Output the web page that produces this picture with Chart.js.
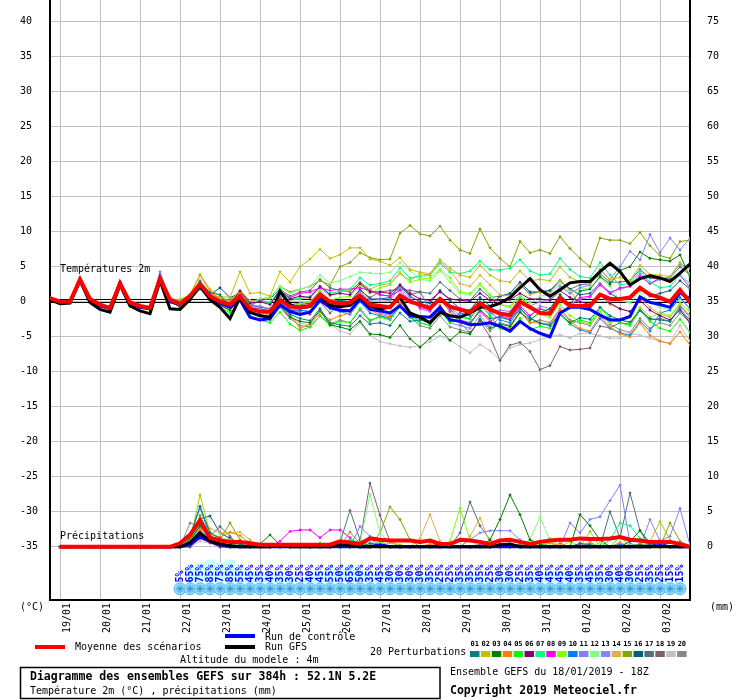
<!DOCTYPE html>
<html><head><meta charset="utf-8"><title>Diagramme des ensembles GEFS</title>
<script src="https://cdn.jsdelivr.net/npm/chart.js@4.4.1/dist/chart.umd.min.js"></script>
<style>html,body{margin:0;padding:0;background:#fff;}canvas{display:block;}</style>
</head><body>
<canvas id="c" width="740" height="700"></canvas>
<script>
// ---------- DATA ----------
const hours = [0,6,12,18,24,30,36,42,48,54,60,66,72,78,84,90,96,102,108,114,120,126,132,138,144,150,156,162,168,174,180,186,192,198,204,210,216,222,228,234,240,246,252,258,264,270,276,282,288,294,300,306,312,318,324,330,336,342,348,354,360,366,372,378,384];
const dayHours = [6,30,54,78,102,126,150,174,198,222,246,270,294,318,342,366];
const dayLabels = ['19/01','20/01','21/01','22/01','23/01','24/01','25/01','26/01','27/01','28/01','29/01','30/01','31/01','01/02','02/02','03/02'];
const tempTicks = [-35,-30,-25,-20,-15,-10,-5,0,5,10,15,20,25,30,35,40];
const precipTicks = [0,5,10,15,20,25,30,35,40,45,50,55,60,65,70,75];
const pops = [5,65,75,85,75,85,55,45,35,40,35,30,25,40,45,55,50,65,50,35,45,30,30,30,30,35,25,25,35,35,35,25,30,30,25,35,40,45,45,40,35,45,35,30,40,30,25,35,25,15,15];

// Temperature 2m (°C)
const tMean = [0.5,0,0,3.2,0.4,-0.4,-0.9,2.6,-0.1,-0.6,-0.9,3.3,0.3, -0.3,0.8,2.5,0.8, 0.0,-0.4,0.8,-1.0, -1.4,-1.4,0.2,-0.7, -0.8,-0.6,1.0,0.0, -0.2,-0.1,0.9,-0.4, -0.6,-0.8,0.9,0.0, -0.4,-0.9,0.4,-0.7, -1.1,-1.5,-0.2,-1.1, -1.7,-1.9,0.0,-0.8, -1.6,-1.7,0.5,-0.6, -0.6,-0.6,1.0,0.4, 0.4,0.6,2.0,1.0, 0.6,0.0,1.7,-0.1];
const tGfs = [0.3,-0.3,-0.2,3.0,-0.1,-1.1,-1.5,2.4,-0.6,-1.3,-1.7,3.0,-1.0, -1.1,0.3,2.4,0.3, -0.8,-2.4,0.6,-1.5, -2.0,-2.2,1.5,-0.4, -0.9,-0.7,0.8,-0.5, -0.7,-0.5,0.7,-0.6, -1.0,-0.8,0.6,-1.6, -2.2,-3.0,-1.5,-2.0, -2.2,-1.6,-0.8,-0.7, -0.2,0.6,2.0,3.3, 1.7,0.8,1.7,2.7, 2.9,2.9,4.3,5.5, 4.3,2.4,3.3,3.7, 3.4,2.9,4.1,5.4];
const tCtl = [0.4,-0.1,-0.1,3.1,0.3,-0.6,-1.0,2.7,-0.2,-0.8,-1.0,3.4,0.0, -0.4,0.6,2.2,0.5, -0.2,-0.8,0.3,-2.2, -2.6,-2.4,-0.4,-1.4, -1.8,-1.5,0.2,-0.8, -1.2,-1.3,0.4,-1.1, -1.3,-1.6,-0.6,-2.0, -2.1,-2.2,-0.8,-2.6, -2.8,-3.3,-3.2,-3.0, -3.5,-4.2,-2.8,-3.8, -4.5,-5.0,-1.6,-0.8, -0.8,-1.1,-1.9,-2.6, -2.6,-2.1,0.7,-0.1, -0.4,-0.8,1.3,0.4];
const t01 = [0.6,0.1,0,3.0,0.3,-0.4,-0.9,2.7,-0.1,-0.6,-0.9,3.4,0.4, -0.2,0.6,2.8,1.3, 1.0,-0.8,0.2,-1.5, -1.8,-2.2,-0.5,-1.8, -2.4,-2.7,-1.0,-3.0, -3.3,-3.5,-2.0,-3.2, -3.0,-3.4,-1.6,-2.8, -2.6,-3.0,-1.4,-2.7, -2.8,-3.1,-1.2,-2.4, -2.2,-2.6,-0.9,-2.3, -3.1,-3.4,-1.8,-3.0, -2.3,-2.5,-0.8,-2.0, -2.6,-2.9,-1.3,-2.4, -2.6,-2.8,-1.0,-2.7];
const t02 = [0.4,0,0.1,3.2,0.4,-0.3,-0.8,2.8,0,-0.5,-0.8,3.5,0.5, 0.2,1.0,3.9,1.8, 0.8,0.6,4.3,1.2, 1.3,0.8,4.3,2.8, 5.0,6.1,7.5,6.2, 6.7,7.7,7.7,6.1, 5.8,5.2,6.3,4.6, 4.2,4.0,6.0,4.8, 3.8,3.5,5.2,3.8, 3.0,2.8,4.4,3.0, 3.2,3.0,5.0,3.5, 2.8,2.6,4.6,3.2, 3.5,3.0,5.2,3.9, 3.8,3.6,5.6,4.0];
const t03 = [0.5,-0.1,0,3.0,0.2,-0.6,-1.1,2.5,-0.3,-0.8,-1.1,3.0,0.1, -0.8,0.2,1.8,0.3, -0.5,-1.2,0.3,-1.6, -2.0,-2.4,-0.6,-2.2, -2.8,-3.0,-1.2,-3.3, -3.6,-4.0,-2.8,-4.6, -4.7,-5.1,-3.4,-5.3, -6.5,-5.2,-4.0,-5.5, -4.3,-4.6,-2.5,-3.8, -3.2,-3.5,-1.5,-2.6, -1.5,-1.0,1.0,-0.4, 1.5,1.8,3.6,2.5, 4.5,5.0,7.1,6.2, 6.0,5.8,6.7,3.5];
const t04 = [0.4,-0.1,-0.1,3.3,0.3,-0.5,-1.0,2.6,-0.2,-0.7,-1.0,3.1,0.3, 0.0,1.0,3.8,1.5, 0.3,-0.5,1.2,-0.8, -1.5,-2.0,0.2,-1.8, -3.8,-3.2,-1.5,-2.6, -2.0,-1.6,0.2,-1.2, -1.8,-2.2,0.0,-1.6, -2.4,-2.8,-0.5,-2.4, -3.0,-3.3,-1.0,-2.8, -3.4,-3.8,-1.5,-3.0, -3.0,-3.2,-1.2,-2.8, -3.8,-4.2,-2.0,-3.6, -4.6,-5.0,-3.0,-4.8, -5.6,-6.0,-4.3,-6.2];
const t05 = [0.5,0,0,3.1,0.2,-0.6,-1.0,2.5,-0.3,-0.7,-1.0,3.0,0.0, -0.5,0.3,2.0,0.2, -0.8,-1.6,0.0,-2.0, -2.6,-3.0,-1.5,-3.2, -4.1,-3.6,-2.0,-3.4, -2.8,-3.0,-1.0,-2.6, -2.2,-2.6,-0.6,-2.2, -3.0,-3.4,-1.2,-3.0, -2.2,-2.5,-0.4,-2.0, -3.8,-4.2,-2.4,-4.0, -3.5,-3.8,-1.8,-3.2, -2.6,-3.0,-0.8,-2.4, -3.0,-3.4,-1.2,-2.8, -3.8,-4.2,-2.5,-4.4];
const t06 = [0.5,0.1,0,3.1,0.4,-0.4,-0.9,2.7,-0.1,-0.6,-0.9,3.2,0.3, 0.0,0.8,2.6,1.0, 0.2,-0.2,1.5,-0.2, 0.0,-0.4,1.6,0.4, 0.8,0.6,2.2,1.0, 1.2,1.0,2.6,1.4, 1.4,1.2,2.4,1.2, 0.4,0.2,1.4,0.4, 0.2,0.1,1.2,0.2, 0.2,0.3,1.2,0.4, 0.4,0.2,1.6,0.6, 0.0,-0.4,1.0,-0.2, -1.0,-1.4,0.2,-1.2, -2.0,-2.6,-1.2,-3.0];
const t07 = [0.5,0,0.1,3.2,0.3,-0.5,-0.9,2.6,-0.2,-0.6,-1.0,3.3,0.2, 0.2,1.0,2.8,1.0, 0.3,-0.3,1.2,-0.4, 0.1,-0.2,1.8,0.5, 0.5,0.8,2.2,1.2, 1.5,1.8,3.4,2.4, 2.6,3.0,4.8,3.4, 3.6,3.8,5.5,4.2, 4.0,4.4,5.8,4.6, 4.5,4.8,6.0,4.4, 3.8,4.0,6.2,4.6, 3.6,3.4,5.6,3.8, 2.4,2.6,4.4,2.8, 2.0,2.2,3.8,2.6];
const t08 = [0.5,0,0,3.0,0.3,-0.5,-1.0,2.6,-0.2,-0.7,-1.0,3.1,0.2, -0.2,0.6,2.2,0.6, 0.0,-0.6,1.0,-0.6, 0.2,-0.2,1.6,0.6, 1.2,1.4,2.0,1.6, 1.8,1.8,2.0,1.6, 1.0,0.8,1.6,0.2, -0.8,-1.2,0.4,-1.0, -2.6,-3.0,-1.4,-2.8, -2.0,-2.4,-0.6,-2.0, -1.0,-1.4,0.6,-0.8, 0.6,0.8,2.4,1.2, 2.0,2.2,3.6,2.6, 3.4,3.0,3.8,2.0];
const t09 = [0.5,0,0,3.1,0.3,-0.5,-1.0,2.6,-0.2,-0.7,-1.0,3.2,0.1, -0.3,0.5,2.4,0.6, -0.4,-1.0,0.8,-1.0, -1.2,-1.5,0.4,-0.8, -0.3,0.0,1.5,0.2, 0.6,0.8,2.4,1.2, 2.0,2.4,4.0,2.8, 3.2,3.4,4.6,3.4, 1.4,1.2,2.6,1.0, -0.4,-0.8,0.8,-0.6, -1.8,-2.2,-0.4,-2.0, -2.8,-3.2,-1.4,-3.0, -2.6,-3.0,-0.8,-2.2, -1.6,-2.0,-0.2,-1.4];
const t10 = [0.6,0.1,0,3.2,0.4,-0.4,-0.9,2.8,-0.1,-0.6,-0.9,3.5,0.3, 0.0,0.8,2.9,1.0, 0.1,-0.6,0.8,-1.0, -1.4,-1.8,0.4,-1.2, -1.2,-1.4,0.2,-1.0, -1.4,-1.8,0.0,-1.6, -2.0,-2.4,-0.4,-2.2, -2.4,-2.8,-1.0,-2.6, -1.6,-2.0,0.0,-1.4, -2.6,-3.0,-1.0,-2.4, -3.0,-3.4,-1.6,-3.2, -4.0,-4.4,-2.4,-3.8, -4.4,-4.8,-2.8,-4.2, -1.6,-1.2,0.6,-1.0];
const t11 = [0.5,0,0,3.2,0.3,-0.5,-1.0,2.7,-0.2,-0.7,-1.0,4.0,0.3, 0.2,0.9,2.8,1.0, 0.0,-0.4,1.2,-0.6, -1.0,-1.4,0.6,-1.0, -1.2,-1.4,0.4,-0.8, -0.2,-0.4,1.4,0.2, 0.3,0.2,2.0,0.6, -1.0,-1.4,0.4,-0.8, -2.0,-2.4,-0.4,-1.8, -1.2,-1.4,0.6,-0.6, 0.0,0.4,2.2,1.2, 2.0,2.4,4.6,3.2, 5.0,7.2,6.0,9.6, 7.0,9.1,7.4,9.1];
const t12 = [0.5,0,0,3.1,0.3,-0.5,-0.9,2.6,-0.2,-0.6,-0.9,3.2,0.2, 0.1,0.9,2.7,1.1, 0.3,-0.2,1.4,-0.2, 0.4,0.6,2.2,1.2, 1.8,2.2,3.8,2.6, 3.0,3.6,4.2,4.1, 4.0,4.2,5.6,4.4, 3.2,3.0,4.4,2.8, 1.2,1.0,2.4,0.8, -0.4,-0.6,1.0,-0.2, 0.8,1.0,2.6,1.2, 1.8,2.0,3.4,2.2, 0.2,-0.2,1.4,0.0, -0.8,-1.2,0.4,-1.0];
const t13 = [0.4,-0.1,0,3.4,0.3,-0.5,-1.0,2.9,-0.2,-0.7,-1.0,4.3,0.4, 0.1,0.7,2.6,0.8, 0.2,-0.4,1.0,-0.6, -0.6,-1.0,1.0,-0.4, -0.2,0.0,1.6,0.2, -1.0,-1.4,0.6,-1.0, -1.6,-2.0,0.0,-1.6, -3.0,-3.4,-1.4,-3.0, -3.4,-3.8,-2.0,-3.6, -2.2,-2.6,-0.6,-2.0, -0.6,-1.0,1.0,-0.4, 0.4,0.6,2.6,1.4, 1.8,2.2,4.0,2.6, 3.2,3.6,5.4,4.8];
const t14 = [0.5,0,0,3.1,0.3,-0.5,-1.0,2.7,-0.1,-0.6,-0.9,3.3,0.3, 0.3,1.0,3.0,1.2, 0.6,0.0,1.6,0.2, 0.0,-0.2,1.4,0.2, 0.4,0.6,2.0,0.8, 1.4,1.6,2.8,1.8, 2.4,2.6,4.2,3.0, 4.0,3.8,5.8,4.4, 2.6,2.2,3.8,2.4, 1.0,0.8,2.4,1.0, 1.4,1.2,3.0,1.6, -0.4,-0.8,1.0,-0.4, -1.0,-1.4,0.6,-0.8, -1.8,-2.2,-0.4,-2.0];
const t15 = [0.5,0,0,3.1,0.3,-0.5,-1.0,2.6,-0.2,-0.7,-1.0,3.1,0.2, 0.2,1.0,2.8,1.2, 0.6,0.2,1.6,0.0, 0.4,0.6,2.2,1.4, 1.8,2.2,3.0,2.4, 5.0,5.6,7.0,6.3, 6.0,6.1,9.8,10.9, 9.7,9.4,10.8,8.8, 7.4,6.9,10.4,7.7, 6.2,5.0,8.6,7.0, 7.4,6.9,9.3,7.6, 6.2,5.0,9.1,8.8, 8.8,8.3,9.9,8.0, 6.6,6.2,8.6,8.8];
const t16 = [0.5,0,0,3.1,0.3,-0.5,-1.0,2.6,-0.2,-0.7,-1.0,3.2,0.3, 0.0,0.9,2.6,1.0, 2.0,0.6,1.2,-0.4, -0.8,-1.0,0.6,-0.6, -0.4,-0.2,1.4,0.0, 0.2,0.0,1.8,0.4, 0.4,0.6,2.4,0.8, 0.0,-0.2,1.6,0.2, -1.0,-1.2,0.6,-0.6, 0.8,1.2,2.8,1.4, 1.4,1.6,3.0,1.8, 1.0,1.2,2.6,1.2, 0.4,0.6,2.0,0.8, 1.2,1.6,3.0,1.8];
const t17 = [0.5,0,0,3.1,0.3,-0.5,-1.0,2.6,-0.2,-0.7,-1.0,3.2,0.2, 0.2,1.0,3.0,1.2, 0.4,0.0,1.4,0.0, 0.2,0.4,1.8,0.8, 1.4,1.6,3.2,2.0, 1.6,1.4,2.8,1.6, 1.0,0.8,2.2,1.0, 1.4,1.2,2.8,1.6, 0.4,0.2,1.8,0.6, 0.8,1.0,2.4,1.2, 1.4,1.6,3.0,1.8, 2.4,2.6,4.0,2.8, 2.8,3.0,4.6,3.4, 3.2,3.4,5.0,3.8];
const t18 = [0.5,0,0,3.1,0.3,-0.5,-1.0,2.6,-0.2,-0.7,-1.0,3.2,0.2, 0.0,0.8,2.6,0.8, -0.2,-0.8,0.8,-1.0, -1.0,-1.4,0.6,-1.2, -1.4,-1.8,0.0,-1.6, -0.4,-0.2,1.6,0.6, 1.4,1.6,1.8,1.6, 1.4,-1.0,0.4,-1.4, -3.0,-4.4,-2.8,-5.0, -8.4,-6.2,-5.8,-7.1, -9.7,-9.1,-6.4,-6.9, -6.8,-6.6,-3.5,-3.7, -3.0,-3.2,-1.0,-2.6, -2.4,-2.8,-0.6,-2.2];
const t19 = [0.5,0,0,3.1,0.3,-0.5,-1.0,2.6,-0.2,-0.7,-1.0,3.1,0.1, -0.4,0.4,2.2,0.4, -0.6,-1.2,0.6,-1.6, -2.0,-2.4,-0.4,-2.2, -3.0,-3.4,-1.4,-3.2, -4.2,-4.6,-3.0,-4.8, -5.7,-6.0,-6.3,-6.5, -6.3,-5.7,-4.9,-5.5, -6.4,-7.3,-6.1,-7.0, -8.3,-6.6,-6.1,-5.9, -5.4,-5.0,-4.7,-5.2, -4.5,-4.5,-4.9,-5.2, -5.2,-4.5,-4.8,-5.2, -5.7,-5.9,-3.4,-5.6];
const t20 = [0.5,0,0,3.1,0.3,-0.5,-1.0,2.6,-0.2,-0.7,-1.0,3.2,0.2, -0.3,0.5,2.4,0.6, -0.6,-1.2,0.6,-1.4, -2.0,-2.6,-0.8,-2.4, -3.4,-3.6,-2.0,-3.2, -2.6,-3.0,-1.2,-2.8, -2.0,-2.4,-0.6,-2.2, -3.4,-3.8,-2.0,-3.6, -4.0,-4.4,-2.6,-4.2, -3.0,-3.4,-1.4,-3.0, -2.6,-3.0,-1.0,-2.6, -3.0,-3.4,-1.4,-3.2, -4.0,-4.4,-2.4,-3.8, -3.0,-3.4,-1.6,-3.0];

// Precipitations (mm), from +6h to +384h
const pMean = [0,0,0,0,0,0,0,0,0,0,0,0, 0.5,1.7,3.8,1.3, 0.9,0.7,0.7,0.5, 0.3,0.3,0.3,0.3, 0.3,0.3,0.3,0.3, 0.8,0.6,0.4,1.2, 1.0,0.9,0.9,0.9, 0.7,0.9,0.4,0.4, 1.0,0.9,0.7,0.4, 0.9,1.0,0.7,0.4, 0.7,0.9,1.0,1.0, 1.2,1.1,1.1,1.2, 1.4,1.0,0.9,0.7, 0.7,0.7,0.4,0.0];
const pGfs = [0,0,0,0,0,0,0,0,0,0,0,0, 0,0.6,2.0,0.8, 0.4,0.2,0,0, 0,0,0.2,0, 0,0,0,0, 0.3,0.2,0,0, 0,0,0,0, 0,0,0,0, 0,0,0,0, 0.3,0.4,0,0, 0,0,0,0, 0,0,0,0, 0,0,0,0, 0,0,0,0, 0,1.5,2.3,0];
const pCtl = [0,0,0,0,0,0,0,0,0,0,0,0, 0,0.3,1.5,0.8, 0.3,0,0,0, 0,0,0,0, 0,0,0,0, 0,0,0,0, 0.3,0,0,0, 0,0,0,0, 0,0,0,0, 0,0,0,0, 0,0,0,0, 0,0,0,0, 0,0,0,0, 0.2,0,0,0, 0,0,0,0];
const p01 = [0,0,0,0,0,0,0,0,0,0,0,0, 0.3,1.5,5.8,2.0, 1.2,0.6,0.4,0, 0,0,0,0, 0.2,0,0,0, 0,0,0,0.5, 0.3,0,0,0, 0,0,0,0, 0,0,0,0, 0,0.4,0,0, 0,0,0,0, 0.5,0.3,0,0, 0,0,0,0.3, 0,0,0,0];
const p02 = [0,0,0,0,0,0,0,0,0,0,0,0, 0.2,0.8,7.4,2.0, 1.2,1.0,0.8,0.3, 0,0,0,0, 0,0,0,0, 0.4,0,0,0, 0,0.6,0.3,0, 0,0,0,0, 0,0,0,0, 0,0,0,0, 0.6,0.5,0,0, 0,2.2,0,0, 0,0,0,0.8, 3.6,1.0,0,0];
const p03 = [0,0,0,0,0,0,0,0,0,0,0,0, 0,1.0,3.0,1.5, 0.8,0,0,0, 0.4,1.7,0.3,0, 0,0,0,0, 0.4,0,0,0, 0,0,0,0, 0,0,0,0, 0,0,0,1.0, 3.9,7.4,4.6,1.0, 0.4,0,0,0, 4.6,3.0,1.0,0, 0,0.8,2.3,0.5, 0,0,0.4,0];
const p04 = [0,0,0,0,0,0,0,0,0,0,0,0, 0,0.6,2.5,1.8, 1.4,2.1,1.6,0.5, 0,0,0,0, 0,0,0,0, 0,0,0,0.3, 0,0,0,0, 0,0.4,0,0, 0,0,0,0, 0,0,0,0, 0,0,0.5,0, 0,0,0,0, 0.6,0,0,0, 0,0,0,0];
const p05 = [0,0,0,0,0,0,0,0,0,0,0,0, 0,0.2,2.0,0.8, 0.5,0,0,0, 0,0,0,0.3, 0,0,0.5,0, 0,0,0,0, 0.8,0,0,0, 0,0,0,0, 0,0,0,0, 0,0,0,0.5, 0,0,0,0, 0,0,0,0, 1.5,0,0.5,0, 0,0,0,0];
const p06 = [0,0,0,0,0,0,0,0,0,0,0,0, 0,0,1.2,0.6, 0,0,0,0, 0,0,0,0, 0,0,0,0, 0,0,0.3,0, 0,0,0,0, 0,0,0,0, 0,0,0,0, 0.4,0,0,0, 0,0,0,0, 0,0,0,0, 0,0,0.4,0, 0.6,0,0,0];
const p07 = [0,0,0,0,0,0,0,0,0,0,0,0, 0,0.4,3.5,1.4, 0.6,0,0,0, 0,0,0,0, 0,0,0,0, 0.5,1.0,0.6,0, 0,0,0,0, 0,0,0,0, 0,0,0,0, 0,0,0,0, 0.8,0,0,0, 0,0,0,1.0, 3.4,3.0,1.2,0, 0,0,0,0];
const p08 = [0,0,0,0,0,0,0,0,0,0,0,0, 0,0.8,2.2,1.0, 0.5,0,0,0, 0,0,0.8,2.2, 2.4,2.4,1.3,2.4, 2.4,1.3,0,0, 0,0,0,0, 0,0,0,0, 0,0,0.3,0, 0,0,0,0, 0,0,0,0, 0.3,0,0,0, 0,0,0,0.5, 0,0,0,0];
const p09 = [0,0,0,0,0,0,0,0,0,0,0,0, 0,0.6,4.0,2.0, 1.0,0.6,0,0, 0,0,0,0, 0,0,0,0.4, 0.3,0,0,0, 0,0,0,0, 0,0,0,0.8, 5.5,1.0,0,0, 0,0,0,0, 0.5,1.2,0,0.8, 0,0,0,0, 0,0,0,0, 0,0,0,0];
const p10 = [0,0,0,0,0,0,0,0,0,0,0,0, 0,1.5,5.6,1.5, 0.6,0,0,0, 0,0,0,0, 0,0,0.2,0, 0.5,0,0,0, 0,0,0,0, 0,0,0,0, 0,0,0,0, 0.3,0,0,0, 0.2,0,0,0, 0,0,0,0, 0.4,0,0,0, 0,0,0,0];
const p11 = [0,0,0,0,0,0,0,0,0,0,0,0, 0,0.5,3.0,1.0, 0,0,0,0, 0,0,0,0, 0,0,0,0, 0,0,2.9,1.5, 0,0,0,0, 0,0,0,0, 0,0,0,0, 0,0,0,0, 0,0,0,3.4, 2.0,3.9,4.3,6.6, 8.8,0.5,0,0, 0,0,0,0];
const p12 = [0,0,0,0,0,0,0,0,0,0,0,0, 0,0.5,2.5,1.0, 0,0,0,0, 0,0,0,0, 0,0,0,0, 0,0,0.5,7.5, 2.0,0.5,0,0, 0,0,0,0, 0,0,0,0, 0,0,0,1.0, 4.3,0.8,0,0, 0,0,0.6,0, 0,0,0,0, 0,0,0,0];
const p13 = [0,0,0,0,0,0,0,0,0,0,0,0, 0,0,2.0,0.8, 0,0,0,0, 0,0,0,0, 0,0,0,0, 0,0,0,0, 0,0,0,0, 0,0,0,0, 0,1.0,2.0,2.3, 2.3,2.3,1.0,0, 0,0,0,0, 0,0,0,0, 0,0,0,3.9, 0.8,1.5,5.5,0.2];
const p14 = [0,0,0,0,0,0,0,0,0,0,0,0, 0,0.8,3.2,2.6, 2.0,2.0,2.1,1.0, 0,0,0,0, 0,0,0,0, 0,0,0,0, 0,0,0,0, 1.2,4.6,0.8,0, 0,1.5,4.1,0.5, 0,0,0,0, 0,0,0.5,0, 0,0.6,0,0, 0,0,0,0, 1.0,0,0,0];
const p15 = [0,0,0,0,0,0,0,0,0,0,0,0, 0,0.5,4.5,1.4, 1.0,3.4,1.0,0, 0,0,0,0, 0,0,0,0, 0,2.1,0.5,0, 2.0,5.7,3.9,1.0, 0,0,0,0, 0,0,0,0, 0,0,0,0, 0,0.6,0,0, 0,0,0,0, 0,0,0,0, 0,3.4,0.8,0];
const p16 = [0,0,0,0,0,0,0,0,0,0,0,0, 0,0.8,4.0,4.4, 2.0,1.2,0.4,0, 0,0,0,0, 0,0,0,0, 0,0,0,0, 0,0,0,0, 0,0,0.6,0, 0,0,0,0, 0,0,0,0, 0,0,0,0, 0,0.6,0,0, 0,0,0,0, 0,0,0,0];
const p17 = [0,0,0,0,0,0,0,0,0,0,0,0, 0,1.0,3.5,1.5, 2.9,1.5,0,0, 0,0,0,0, 0,0,0,0, 0.6,5.2,1.0,0, 0,0,0,0, 0,0,0,0, 2.0,6.4,3.0,1.0, 0,0,0,0, 0,0,0,0, 0,0,0,5.0, 1.3,7.7,2.3,0, 0,0,0,0];
const p18 = [0,0,0,0,0,0,0,0,0,0,0,0, 0,1.2,2.6,1.0, 0,0,0,0, 0,0,0,0, 0,0,0,0, 0,0,0.8,9.1, 4.5,0.8,0,0, 0,0,0,0, 0,0,0,0, 0,0,0.4,0, 0,0,0,0, 0,0,0,0, 0,0,0,0, 0,0,0,0];
const p19 = [0,0,0,0,0,0,0,0,0,0,0,0, 0,0,0.8,0.5, 0,0,0,0, 0,0,0,0, 0,0,0,0, 0,0,0,0, 0,0,0,0, 0,0,0,0, 0,0,0.5,0, 0,0,0,0, 0,0,0,0, 0,0,0,0, 0,0.3,0,0, 0,0,0,0];
const p20 = [0,0,0,0,0,0,0,0,0,0,0,0, 0,3.4,2.8,1.4, 0.8,0,0,0, 0,0,0,0, 0,0,0,0, 0,0,0,0, 0,0,0,0, 0,0,0.5,0.3, 0,0,0,0, 0,0,0,0, 0,0,0,0, 0.4,0,0,0, 0,0,0,0, 0,0,0,0];

const membersT = [t01,t02,t03,t04,t05,t06,t07,t08,t09,t10,t11,t12,t13,t14,t15,t16,t17,t18,t19,t20];
const membersP = [p01,p02,p03,p04,p05,p06,p07,p08,p09,p10,p11,p12,p13,p14,p15,p16,p17,p18,p19,p20];

// ---------- STYLE ----------
const pertColors = ['#008080','#c0c000','#008000','#ff8000','#00ff00','#800080','#00ff80','#ff00ff','#80ff00','#0080ff','#8080ff','#80ff80','#8484ff','#e0b040','#80a800','#006080','#507080','#806070','#c0c0c0','#888888'];
const MONO = '"DejaVu Sans Mono", "Liberation Mono", monospace';
const BAR_BASE = -40.1, SNOW_Y = -41.0, ZERO_LINES = [0, 0.38];

const precipHours = hours.slice(1);
const popHours = hours.slice(13, 64);
const ptsT = a => a.map((v,i)=>({x:hours[i], y:v}));
const ptsP = a => a.map((v,i)=>({x:precipHours[i], y:v}));

const datasets = [];
datasets.push({data:ptsT(tMean), borderColor:'#ff0000', borderWidth:4, pointRadius:0, order:0, yAxisID:'y'});
datasets.push({data:ptsT(tGfs), borderColor:'#000000', borderWidth:3, pointRadius:0, order:1, yAxisID:'y'});
datasets.push({data:ptsT(tCtl), borderColor:'#0000ff', borderWidth:3, pointRadius:0, order:2, yAxisID:'y'});
datasets.push({data:ptsP(pMean), borderColor:'#ff0000', borderWidth:4, pointRadius:0, order:0, yAxisID:'yR'});
datasets.push({data:ptsP(pGfs), borderColor:'#000000', borderWidth:3, pointRadius:0, order:1, yAxisID:'yR'});
datasets.push({data:ptsP(pCtl), borderColor:'#0000ff', borderWidth:3, pointRadius:0, order:2, yAxisID:'yR'});
membersT.forEach((a,k)=>datasets.push({data:ptsT(a), borderColor:pertColors[k], backgroundColor:pertColors[k], borderWidth:1, pointRadius:1.7, pointStyle:'rectRot', pointBorderWidth:0, order:10+k, yAxisID:'y'}));
membersP.forEach((a,k)=>datasets.push({data:ptsP(a), borderColor:pertColors[k], backgroundColor:pertColors[k], borderWidth:1, pointRadius:1.7, pointStyle:'rectRot', pointBorderWidth:0, order:10+k, yAxisID:'yR'}));
datasets.push({showLine:false, data:popHours.map(h=>({x:h, y:SNOW_Y})), pointStyle:'circle', pointRadius:6, pointBackgroundColor:'#93dcf7', pointBorderColor:'#5ab8ec', pointBorderWidth:1, order:56, yAxisID:'y'});
datasets.push({showLine:false, data:popHours.map(h=>({x:h, y:SNOW_Y})), pointStyle:'star', pointRadius:4, pointBackgroundColor:'#2f8fd8', pointBorderColor:'#2f8fd8', pointBorderWidth:1, order:55, yAxisID:'y'});

const deco = {
  id:'deco',
  beforeDatasetsDraw(chart){
    const {ctx, chartArea:a, scales:{x,y}} = chart;
    ctx.save();
    // probability bars (height from percentage, placed through the scales)
    ctx.fillStyle='#c8ffff';
    const halfStep = (x.getPixelForValue(hours[1]) - x.getPixelForValue(hours[0]))/2;
    const yb = y.getPixelForValue(BAR_BASE);
    popHours.forEach((h,i)=>{
      const px = x.getPixelForValue(h);
      const yt = y.getPixelForValue(BAR_BASE + Math.max(0, pops[i]*0.3-2.5)/7);
      ctx.fillRect(px-halfStep, yt, halfStep*2, yb-yt);
    });
    ctx.strokeStyle='#000'; ctx.lineWidth=1;
    ZERO_LINES.forEach(v=>{const py=Math.round(y.getPixelForValue(v))+0.5; ctx.beginPath(); ctx.moveTo(a.left,py); ctx.lineTo(a.right,py); ctx.stroke();});
    ctx.restore();
  },
  afterDatasetsDraw(chart){
    const {ctx, scales:{x,y}} = chart;
    ctx.save();
    ctx.font='bold 10px '+MONO; ctx.fillStyle='#0000ff'; ctx.textAlign='left'; ctx.textBaseline='middle';
    popHours.forEach((h,i)=>{ctx.save(); ctx.translate(x.getPixelForValue(h), y.getPixelForValue(BAR_BASE)); ctx.rotate(-Math.PI/2); ctx.fillText(pops[i]+'%',0,0); ctx.restore();});
    ctx.font='10px '+MONO; ctx.fillStyle='#000';
    ctx.fillText('Températures 2m', x.getPixelForValue(6), y.getPixelForValue(4.6));
    ctx.fillText('Précipitations', x.getPixelForValue(6), y.getPixelForValue(-33.5));
    ctx.restore();
  },
  afterDraw(chart){
    const ctx = chart.ctx;
    ctx.save();
    ctx.textAlign='left'; ctx.textBaseline='middle'; ctx.fillStyle='#000';
    ctx.font='10px '+MONO;
    ctx.fillText('(°C)', 20, 607);
    ctx.fillText('(mm)', 710, 607);
    ctx.fillStyle='#ff0000'; ctx.fillRect(35,645,30,4);
    ctx.fillStyle='#0000ff'; ctx.fillRect(225,634,30,4);
    ctx.fillStyle='#000000'; ctx.fillRect(225,645,30,4);
    ctx.fillText('Moyenne des scénarios', 75, 647);
    ctx.fillText('Run de contrôle', 265, 637);
    ctx.fillText('Run GFS', 265, 647);
    ctx.fillText('Altitude du modele : 4m', 180, 660);
    ctx.fillText('20 Perturbations', 370, 652);
    ctx.fillText('Ensemble GEFS du 18/01/2019 - 18Z', 450, 672);
    ctx.fillText('Température 2m (°C) , précipitations (mm)', 30, 691);
    pertColors.forEach((c,k)=>{
      const sx = 470 + k*10.9;
      ctx.fillStyle=c; ctx.fillRect(sx,651,9.5,6);
      ctx.fillStyle='#000'; ctx.font='bold 7px '+MONO; ctx.textAlign='center';
      ctx.fillText(String(k+1).padStart(2,'0'), sx+4.75, 644);
    });
    ctx.textAlign='left';
    ctx.font='bold 11.5px '+MONO;
    ctx.fillText('Diagramme des ensembles GEFS sur 384h : 52.1N 5.2E', 30, 677);
    ctx.fillText('Copyright 2019 Meteociel.fr', 450, 691);
    ctx.strokeStyle='#000'; ctx.lineWidth=1.5;
    ctx.strokeRect(20.5,667.5,419.5,31);
    ctx.restore();
  }
};

const zeroPad = s => { s.paddingTop=0; s.paddingBottom=0; s.paddingLeft=0; s.paddingRight=0; };

new Chart(document.getElementById('c'), {
  type:'line',
  data:{datasets},
  plugins:[deco],
  options:{
    responsive:false, animation:false, devicePixelRatio:1, events:[],
    layout:{padding:{left:20,right:0,top:0,bottom:0}, autoPadding:false},
    elements:{line:{tension:0}},
    plugins:{legend:{display:false}, tooltip:{enabled:false}},
    scales:{
      x:{type:'linear', position:'bottom', min:0, max:384, offset:false,
        grid:{color:'#c0c0c0', lineWidth:1, drawTicks:false, offset:false},
        border:{display:true, color:'#000', width:2},
        afterBuildTicks:s=>{s.ticks = dayHours.map(v=>({value:v}));},
        ticks:{autoSkip:false, minRotation:90, maxRotation:90, padding:3, labelOffset:7, color:'#000', font:{family:MONO, size:10},
          callback:(v,i)=>dayLabels[i]},
        afterFit:s=>{s.height=100; zeroPad(s);}
      },
      y:{type:'linear', position:'left', min:-42.6, max:43.1,
        grid:{color:'#c0c0c0', lineWidth:1, drawTicks:false},
        border:{display:true, color:'#000', width:2},
        afterBuildTicks:s=>{s.ticks = tempTicks.map(v=>({value:v}));},
        ticks:{crossAlign:'far', padding:0, color:'#000', font:{family:MONO, size:10}, callback:v=>String(v)},
        afterFit:s=>{s.width=30; zeroPad(s);}
      },
      yR:{type:'linear', position:'right', min:-7.6, max:78.1,
        grid:{drawOnChartArea:false, drawTicks:false},
        border:{display:true, color:'#000', width:2},
        afterBuildTicks:s=>{s.ticks = precipTicks.map(v=>({value:v}));},
        ticks:{crossAlign:'near', padding:17, color:'#000', font:{family:MONO, size:10}, callback:v=>String(v)},
        afterFit:s=>{s.width=50; zeroPad(s);}
      }
    }
  }
});
</script>
</body></html>
